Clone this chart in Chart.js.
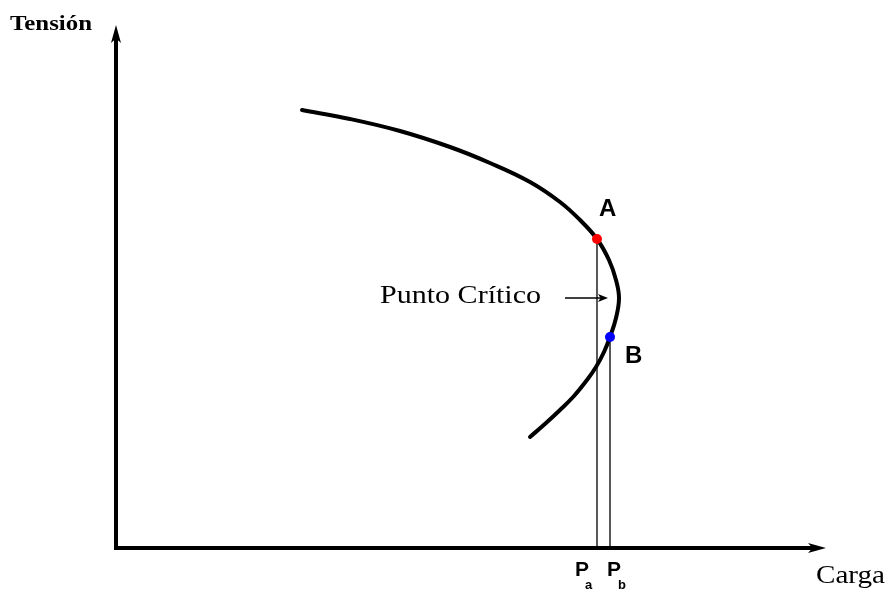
<!DOCTYPE html>
<html>
<head>
<meta charset="utf-8">
<title>Tensión vs Carga</title>
<script src="https://cdn.jsdelivr.net/npm/chart.js@4.4.1/dist/chart.umd.min.js"></script>
<style>
  html, body { margin: 0; padding: 0; background: #fff; }
  #wrap { width: 886px; height: 592px; }
</style>
</head>
<body>
<div id="wrap"><canvas id="chart" width="886" height="592"></canvas></div>
<script>
'use strict';

/* ── Datos (unidades arbitrarias) ── */
const cargaCurva   = [186, 234, 284, 334, 374, 414, 444, 464, 481, 493, 500, 503, 500, 494, 488, 480, 471, 458, 444, 430, 414];
const tensionCurva = [438, 429, 417, 401, 385, 366, 346, 328, 309, 288, 268, 250, 230, 211, 196, 181, 168, 152, 138, 125, 111];

const puntosNombre  = ['A', 'B'];
const puntosCarga   = [481, 494];   // Pa, Pb
const puntosTension = [309, 211];

const flechaCarga   = [449, 492];   // "Punto Crítico"
const flechaTension = 250;

const ejeCargaMax   = 710;
const ejeTensionMax = 523;

/* ── Helpers ── */
const xy = (xs, ys) => xs.map((x, i) => ({ x, y: ys[i] }));

function texto(ctx, str, x, y, font, width) {
  ctx.save();
  ctx.font = font;
  ctx.fillStyle = '#000';
  ctx.textBaseline = 'alphabetic';
  const w = ctx.measureText(str).width;
  const k = width ? width / w : 1;
  ctx.translate(x, y);
  ctx.scale(k, 1);
  ctx.fillText(str, 0, 0);
  ctx.restore();
}

function flecha(ctx, x1, y1, x2, y2, lw, head, half) {
  const a = Math.atan2(y2 - y1, x2 - x1);
  ctx.save();
  ctx.strokeStyle = '#000';
  ctx.fillStyle = '#000';
  ctx.lineWidth = lw;
  ctx.beginPath();
  ctx.moveTo(x1, y1);
  ctx.lineTo(x2 - head * 0.6 * Math.cos(a), y2 - head * 0.6 * Math.sin(a));
  ctx.stroke();
  ctx.translate(x2, y2);
  ctx.rotate(a);
  ctx.beginPath();
  ctx.moveTo(0, 0);
  ctx.lineTo(-head, -half);
  ctx.lineTo(-head * 0.75, 0);
  ctx.lineTo(-head, half);
  ctx.closePath();
  ctx.fill();
  ctx.restore();
}

/* ── Ejes con flechas y rótulos ── */
const decoracion = {
  id: 'decoracion',
  beforeDatasetsDraw(chart) {
    const { ctx, scales: { x, y } } = chart;
    const x0 = x.getPixelForValue(0), y0 = y.getPixelForValue(0);
    const xMax = x.getPixelForValue(ejeCargaMax), yMax = y.getPixelForValue(ejeTensionMax);
    flecha(ctx, x0, y0 + 2, x0, yMax, 4, 18, 5);
    flecha(ctx, x0 - 2, y0, xMax, y0, 4, 18, 5);
  },
  afterDraw(chart) {
    const { ctx, scales: { x, y } } = chart;
    const fy = y.getPixelForValue(flechaTension);
    flecha(ctx, x.getPixelForValue(flechaCarga[0]), fy, x.getPixelForValue(flechaCarga[1]), fy, 1.5, 10, 4);

    texto(ctx, 'Tensión', 10, 30, 'bold 22px "Liberation Serif"', 82);
    texto(ctx, 'Carga', 816, 583, '26px "Liberation Serif"', 69);
    texto(ctx, 'Punto Crítico', 380, 303, '26px "Liberation Serif"', 161);

    const pa = x.getPixelForValue(puntosCarga[0]);
    const pb = x.getPixelForValue(puntosCarga[1]);
    const ya = y.getPixelForValue(puntosTension[0]);
    const yb = y.getPixelForValue(puntosTension[1]);
    texto(ctx, puntosNombre[0], pa + 2, ya - 23, 'bold 24px "Liberation Sans"');
    texto(ctx, puntosNombre[1], pb + 15, yb + 26, 'bold 24px "Liberation Sans"');

    texto(ctx, 'P', pa - 22, 576, 'bold 21px "Liberation Sans"');
    texto(ctx, 'a', pa - 12, 589, 'bold 13px "Liberation Sans"');
    texto(ctx, 'P', pb - 3, 576, 'bold 21px "Liberation Sans"');
    texto(ctx, 'b', pb + 8, 589, 'bold 13px "Liberation Sans"');
  }
};

new Chart(document.getElementById('chart'), {
  type: 'scatter',
  data: {
    datasets: [
      {
        label: 'Punto A',
        data: [{ x: puntosCarga[0], y: puntosTension[0] }],
        pointRadius: 5, pointBackgroundColor: '#ff0000', pointBorderWidth: 0,
        order: 0
      },
      {
        label: 'Punto B',
        data: [{ x: puntosCarga[1], y: puntosTension[1] }],
        pointRadius: 5, pointBackgroundColor: '#0000ff', pointBorderWidth: 0,
        order: 0
      },
      {
        label: 'Curva P-V',
        data: xy(cargaCurva, tensionCurva),
        showLine: true, borderColor: '#000', borderWidth: 4,
        pointRadius: 0, tension: 0.4, borderCapStyle: 'round',
        order: 1
      },
      {
        label: 'Pa',
        data: [{ x: puntosCarga[0], y: puntosTension[0] }, { x: puntosCarga[0], y: 0 }],
        showLine: true, borderColor: '#000', borderWidth: 1.3, pointRadius: 0,
        order: 2
      },
      {
        label: 'Pb',
        data: [{ x: puntosCarga[1], y: puntosTension[1] }, { x: puntosCarga[1], y: 0 }],
        showLine: true, borderColor: '#000', borderWidth: 1.3, pointRadius: 0,
        order: 2
      }
    ]
  },
  options: {
    responsive: false,
    animation: false,
    devicePixelRatio: 1,
    layout: { padding: { left: 116, right: 886 - 116 - ejeCargaMax, top: 548 - ejeTensionMax, bottom: 44 } },
    scales: {
      x: { type: 'linear', min: 0, max: ejeCargaMax, display: false },
      y: { type: 'linear', min: 0, max: ejeTensionMax, display: false }
    },
    plugins: { legend: { display: false }, tooltip: { enabled: false } }
  },
  plugins: [decoracion]
});
</script>
</body>
</html>
